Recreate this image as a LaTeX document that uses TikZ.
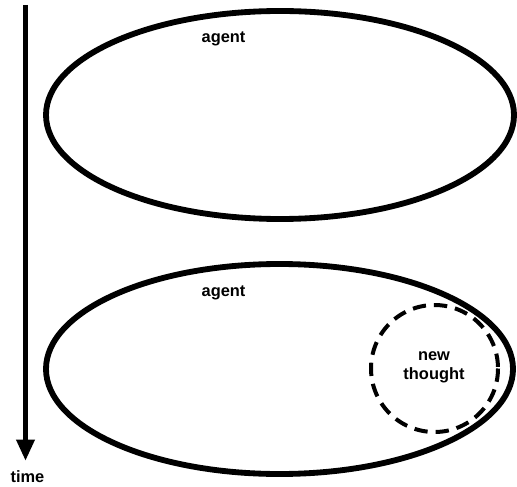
\documentclass[tikz,border=0pt]{standalone}
\usepackage{fontspec}
\setmainfont{Liberation Sans}
\usetikzlibrary{arrows.meta}

\begin{document}
\begin{tikzpicture}[x=0.03cm, y=-0.03cm,
    agentline/.style={line width=0.175cm},
    thoughtline/.style={line width=0.12cm, dash pattern=on 0.4cm off 0.24cm},
    lbl/.style={font=\fontsize{14}{16}\selectfont\bfseries, inner sep=0pt, align=center}]
    \useasboundingbox (0,0) rectangle (517,486);

    % Zeitachse
    \coordinate (tstart) at (25.5,5);
    \coordinate (tend) at (25.5,461);
    \draw[line width=0.16cm, -{Triangle[length=0.64cm, width=0.52cm]}] (tstart) -- (tend);
    \node[lbl] (time) at (27.5,477) {time};

    % Agent vorher
    \draw[agentline] (280,115) ellipse [x radius=234, y radius=104];
    \node[lbl] (agent1) at (223.5,39) {agent};

    % Agent nachher
    \draw[agentline] (279.5,369) ellipse [x radius=233.5, y radius=105];
    \node[lbl] (agent2) at (223.5,293) {agent};

    % neuer Gedanke
    \draw[thoughtline] (434.5,368.5) circle [radius=63.5];
    \node[lbl] (thought) at (434,367) {new\\thought};
\end{tikzpicture}
\end{document}
